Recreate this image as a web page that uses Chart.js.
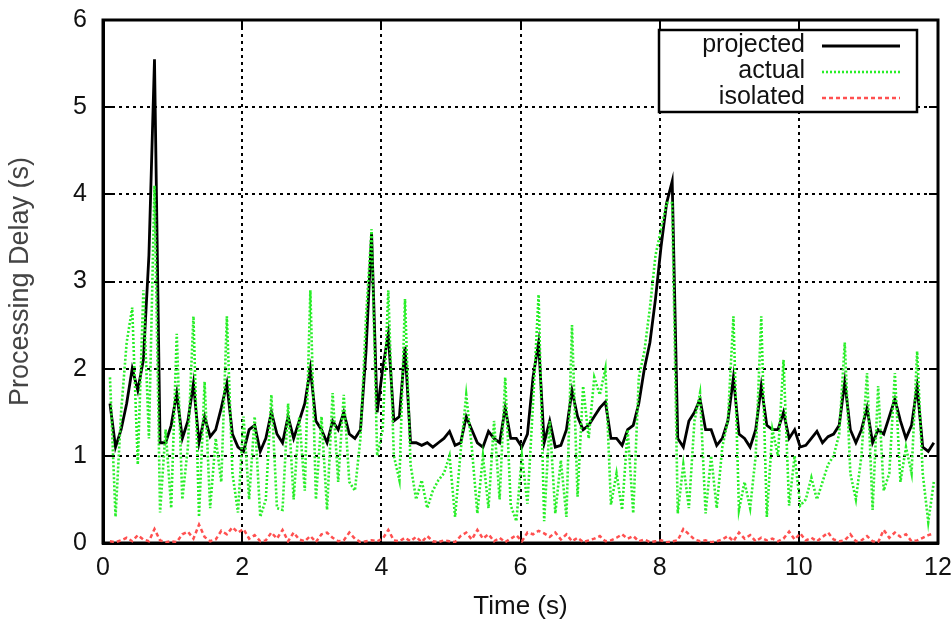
<!DOCTYPE html>
<html><head><meta charset="utf-8">
<script src="https://cdn.jsdelivr.net/npm/chart.js@4/dist/chart.umd.min.js"></script>
<style>html,body{margin:0;padding:0;background:#fff;overflow:hidden}</style>
</head><body>
<canvas id="c" width="951" height="626"></canvas>
<script>
const times = [
0.10,0.18,0.26,0.34,0.42,0.50,0.58,0.66,0.74,0.82,
0.90,0.98,1.06,1.14,1.22,1.30,1.38,1.46,1.54,1.62,
1.70,1.78,1.86,1.94,2.02,2.10,2.18,2.26,2.34,2.42,
2.50,2.58,2.66,2.74,2.82,2.90,2.98,3.06,3.14,3.22,
3.30,3.38,3.46,3.54,3.62,3.70,3.78,3.86,3.94,4.02,
4.10,4.18,4.26,4.34,4.42,4.50,4.58,4.66,4.74,4.82,
4.90,4.98,5.06,5.14,5.22,5.30,5.38,5.46,5.54,5.62,
5.70,5.78,5.86,5.94,6.02,6.10,6.18,6.26,6.34,6.42,
6.50,6.58,6.66,6.74,6.82,6.90,6.98,7.06,7.14,7.22,
7.30,7.38,7.46,7.54,7.62,7.70,7.78,7.86,7.94,8.02,
8.10,8.18,8.26,8.34,8.42,8.50,8.58,8.66,8.74,8.82,
8.90,8.98,9.06,9.14,9.22,9.30,9.38,9.46,9.54,9.62,
9.70,9.78,9.86,9.94,10.02,10.10,10.18,10.26,10.34,10.42,
10.50,10.58,10.66,10.74,10.82,10.90,10.98,11.06,11.14,11.22,
11.30,11.38,11.46,11.54,11.62,11.70,11.78,11.86,11.94];

const projected = [
1.6,1.1,1.3,1.6,2.0,1.75,2.1,3.3,5.55,1.15,
1.15,1.35,1.72,1.2,1.4,1.83,1.15,1.45,1.22,1.3,
1.55,1.83,1.25,1.1,1.05,1.3,1.35,1.05,1.2,1.5,
1.25,1.15,1.45,1.2,1.4,1.6,2.0,1.4,1.3,1.15,
1.4,1.3,1.5,1.25,1.2,1.3,2.2,3.55,1.5,2.0,
2.4,1.4,1.45,2.25,1.15,1.15,1.12,1.15,1.1,1.15,
1.2,1.28,1.12,1.15,1.45,1.3,1.15,1.1,1.28,1.2,
1.15,1.55,1.2,1.2,1.1,1.25,1.9,2.3,1.15,1.4,
1.1,1.12,1.3,1.75,1.45,1.3,1.35,1.45,1.55,1.62,
1.2,1.2,1.12,1.3,1.35,1.6,2.0,2.3,2.8,3.4,
3.9,4.15,1.2,1.1,1.4,1.5,1.65,1.3,1.3,1.12,
1.2,1.4,1.9,1.25,1.2,1.1,1.3,1.8,1.35,1.3,
1.3,1.5,1.2,1.3,1.1,1.12,1.2,1.28,1.15,1.22,
1.25,1.35,1.85,1.3,1.15,1.3,1.55,1.15,1.3,1.25,
1.45,1.65,1.4,1.2,1.35,1.8,1.1,1.05,1.15];

const actual = [
1.9,0.3,1.5,2.3,2.7,0.9,2.9,1.2,4.1,0.35,
1.3,0.4,2.4,0.5,1.1,2.6,0.3,1.85,0.4,1.2,
0.7,2.6,0.8,0.35,1.45,0.5,1.45,0.3,0.5,1.7,
0.4,0.38,1.6,0.5,1.45,0.6,2.9,0.5,1.45,0.38,
1.72,0.7,1.7,0.7,0.6,1.2,2.6,3.6,1.0,1.3,
2.9,1.0,0.72,2.8,0.9,0.5,0.72,0.4,0.6,0.72,
0.8,1.0,0.3,1.05,1.7,1.1,0.34,1.0,0.4,1.4,
0.5,1.9,0.43,0.25,1.0,0.45,1.6,2.85,0.25,1.4,
0.34,0.95,0.3,2.5,0.53,1.8,1.2,1.9,1.7,2.0,
0.44,0.8,0.38,1.3,0.34,1.9,2.2,2.7,3.3,3.6,
3.9,3.9,0.34,0.9,0.4,1.4,1.72,0.34,1.0,0.4,
1.1,1.4,2.6,0.38,0.7,0.4,1.0,2.6,0.3,1.3,
1.0,2.1,0.43,1.0,0.43,0.5,0.75,0.5,0.7,0.9,
1.0,1.25,2.3,0.8,0.5,1.0,1.95,0.38,1.8,0.6,
0.8,1.95,0.7,1.1,0.8,2.2,0.8,0.24,0.7];

const isolated = [
0.02,0.01,0.03,0.06,0.02,0.09,0.04,0.02,0.16,0.03,
0.01,0.02,0.01,0.10,0.13,0.05,0.21,0.07,0.02,0.04,
0.14,0.10,0.18,0.12,0.16,0.05,0.09,0.02,0.03,0.12,
0.05,0.15,0.02,0.12,0.04,0.02,0.08,0.01,0.10,0.12,
0.06,0.02,0.03,0.12,0.05,0.01,0.02,0.03,0.02,0.05,
0.15,0.03,0.02,0.06,0.02,0.07,0.01,0.08,0.02,0.01,
0.03,0.02,0.01,0.08,0.12,0.04,0.15,0.05,0.10,0.02,
0.06,0.01,0.05,0.09,0.02,0.12,0.10,0.14,0.11,0.07,
0.12,0.04,0.10,0.02,0.06,0.01,0.03,0.05,0.08,0.02,
0.03,0.06,0.10,0.05,0.08,0.02,0.04,0.01,0.02,0.03,
0.01,0.02,0.03,0.16,0.10,0.04,0.02,0.03,0.01,0.02,
0.04,0.08,0.02,0.12,0.05,0.09,0.02,0.06,0.03,0.05,
0.02,0.05,0.13,0.04,0.11,0.03,0.06,0.02,0.07,0.12,
0.04,0.02,0.03,0.10,0.02,0.03,0.08,0.02,0.01,0.15,
0.06,0.12,0.07,0.10,0.02,0.03,0.06,0.09,0.11];

const seriesNames = ['projected', 'actual', 'isolated'];
const xTickValues = [0, 2, 4, 6, 8, 10, 12];
const yTickValues = [0, 1, 2, 3, 4, 5, 6];
const xTitle = 'Time (s)';
const yTitle = 'Processing Delay (s)';

const styles = [
  {color: '#000000', width: 2.8, dash: []},
  {color: 'rgb(40,238,40)', width: 2.6, dash: [2, 2]},
  {color: 'rgb(255,80,80)', width: 2.5, dash: [4, 3]}
];
const FONT = '"Liberation Sans", Arial, sans-serif';

function pts(ys) { return times.map((t, i) => ({x: t, y: ys[i]})); }

const frame = {
  id: 'frame',
  beforeDatasetsDraw(chart) {
    const {ctx, chartArea: a, scales: {x, y}} = chart;
    ctx.save();
    ctx.strokeStyle = '#000';
    ctx.lineWidth = 2;
    ctx.setLineDash([]);
    ctx.beginPath();
    xTickValues.forEach(v => {
      const px = Math.round(x.getPixelForValue(v));
      ctx.moveTo(px, a.bottom); ctx.lineTo(px, a.bottom - 9);
      ctx.moveTo(px, a.top); ctx.lineTo(px, a.top + 9);
    });
    yTickValues.forEach(v => {
      const py = Math.round(y.getPixelForValue(v));
      ctx.moveTo(a.left, py); ctx.lineTo(a.left + 9, py);
      ctx.moveTo(a.right, py); ctx.lineTo(a.right - 9, py);
    });
    ctx.stroke();
    ctx.lineWidth = 3;
    ctx.strokeRect(a.left, a.top, a.right - a.left, a.bottom - a.top);
    ctx.restore();
  },
  afterDraw(chart) {
    const {ctx, chartArea: a} = chart;
    const bx = a.right - 279, by = a.top + 10, bw = 258, bh = 82;
    ctx.save();
    ctx.fillStyle = '#fff';
    ctx.fillRect(bx, by, bw, bh);
    ctx.strokeStyle = '#000';
    ctx.lineWidth = 2.5;
    ctx.setLineDash([]);
    ctx.strokeRect(bx, by, bw, bh);
    ctx.font = '25px ' + FONT;
    ctx.textAlign = 'right';
    ctx.textBaseline = 'middle';
    seriesNames.forEach((name, i) => {
      const yy = by + 15 + i * 26;
      ctx.fillStyle = '#111';
      ctx.fillText(name, bx + 146, yy);
      const s = styles[i];
      ctx.strokeStyle = s.color;
      ctx.lineWidth = s.width;
      ctx.setLineDash(s.dash);
      ctx.beginPath();
      ctx.moveTo(bx + 163, yy + 1);
      ctx.lineTo(bx + 241, yy + 1);
      ctx.stroke();
    });
    ctx.restore();
  }
};

new Chart(document.getElementById('c'), {
  type: 'line',
  data: {
    datasets: seriesNames.map((name, i) => ({
      label: name,
      data: pts([projected, actual, isolated][i]),
      borderColor: styles[i].color,
      borderWidth: styles[i].width,
      borderDash: styles[i].dash,
      pointRadius: 0,
      tension: 0,
      fill: false,
      order: 2 - i
    }))
  },
  options: {
    responsive: false,
    animation: false,
    devicePixelRatio: 1,
    layout: {padding: {left: 0, right: 13, top: 20, bottom: 0}},
    plugins: {legend: {display: false}, tooltip: {enabled: false}},
    scales: {
      x: {
        type: 'linear', min: 0, max: 12,
        afterBuildTicks: s => { s.ticks = xTickValues.map(v => ({value: v})); },
        afterFit: s => { s.height = 83; s.paddingLeft = 0; s.paddingRight = 0; },
        ticks: {color: '#111', font: {family: FONT, size: 25}, padding: 10, maxRotation: 0, autoSkip: false},
        grid: {color: '#000', lineWidth: 2, drawTicks: false},
        border: {display: true, color: '#000', width: 3, dash: [3, 4]},
        title: {display: true, text: xTitle, color: '#111', font: {family: FONT, size: 26}, padding: {top: 0, bottom: 4}}
      },
      y: {
        type: 'linear', min: 0, max: 6,
        afterBuildTicks: s => { s.ticks = yTickValues.map(v => ({value: v})); },
        afterFit: s => { s.width = 103; s.paddingTop = 0; s.paddingBottom = 0; },
        ticks: {color: '#111', font: {family: FONT, size: 25}, padding: 16},
        grid: {color: '#000', lineWidth: 2, drawTicks: false},
        border: {display: true, color: '#000', width: 3, dash: [3, 4]},
        title: {display: true, text: yTitle, color: '#444', font: {family: FONT, size: 27}, padding: {top: 4, bottom: 0}}
      }
    }
  },
  plugins: [frame]
});
</script>
</body></html>
